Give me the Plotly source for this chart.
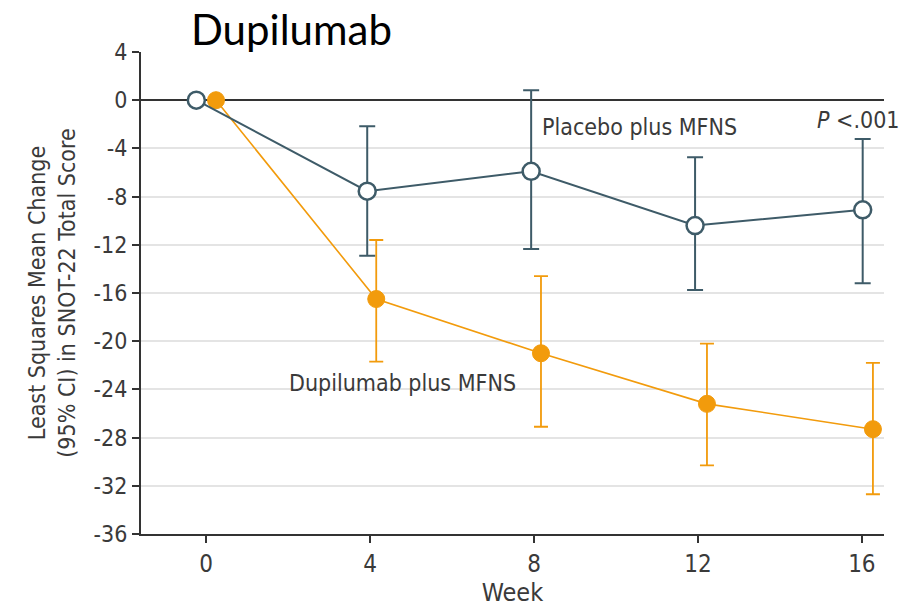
import plotly.graph_objects as go

weeks = [0, 4, 8, 12, 16]
placebo_mean = [0, -7.55, -5.9, -10.4, -9.1]
placebo_upper = [0, -2.16, 0.83, -4.73, -3.23]
placebo_lower = [0, -12.9, -12.35, -15.75, -15.2]
dupi_mean = [0, -16.5, -21.0, -25.2, -27.3]
dupi_upper = [0, -11.6, -14.6, -20.2, -21.8]
dupi_lower = [0, -21.7, -27.1, -30.3, -32.7]
y_ticks = list(range(-36, 5, 4))
y_ticklabels = [str(v) for v in y_ticks]

# horizontal dodge so the two groups don't overlap
placebo_dodge = [-0.24, -0.07, -0.07, -0.07, 0.02]
dupi_dodge = [0.24, 0.15, 0.17, 0.22, 0.27]

PLAC = "#3e5b68"
DUPI = "#f29b0c"
FONT = "DejaVu Sans Condensed, Liberation Sans Narrow, sans-serif"

def xs(d):
    return [w + o for w, o in zip(weeks, d)]

def err(mean, up, lo):
    plus = [u - m for u, m in zip(up, mean)]
    minus = [m - l for m, l in zip(mean, lo)]
    return plus, minus

fig = go.Figure()
pp, pm = err(placebo_mean, placebo_upper, placebo_lower)
dp, dm = err(dupi_mean, dupi_upper, dupi_lower)

fig.add_trace(go.Scatter(
    x=xs(dupi_dodge), y=dupi_mean, mode="lines+markers",
    line=dict(color=DUPI, width=1.6),
    marker=dict(size=17, color=DUPI, line=dict(color=DUPI, width=1)),
    error_y=dict(type="data", symmetric=False, array=dp, arrayminus=dm,
                 color=DUPI, thickness=1.8, width=7),
    showlegend=False))
fig.add_trace(go.Scatter(
    x=xs(placebo_dodge), y=placebo_mean, mode="lines+markers",
    line=dict(color=PLAC, width=2),
    marker=dict(size=17, color="white", line=dict(color=PLAC, width=2.5)),
    error_y=dict(type="data", symmetric=False, array=pp, arrayminus=pm,
                 color=PLAC, thickness=2, width=8),
    showlegend=False))

PW = 904 - 141 - 20
PH = 610 - 52 - 76

fig.update_layout(
    width=904, height=610,
    margin=dict(l=141, r=20, t=52, b=76, autoexpand=False),
    paper_bgcolor="white", plot_bgcolor="white",
    font=dict(family=FONT, color="#3a3a3a", size=23),
    xaxis=dict(range=[-1.59, 16.54], tickvals=weeks, ticks="outside",
               ticklen=7, tickwidth=2, tickcolor="#333333",
               showline=True, linecolor="#333333", linewidth=2,
               showgrid=False, zeroline=False,
               title=dict(text="Week", standoff=6, font=dict(size=25)),
               tickfont=dict(size=24)),
    yaxis=dict(range=[-36, 4], tickvals=y_ticks, ticktext=y_ticklabels, ticks="outside",
               ticklen=7, tickwidth=2, tickcolor="#333333",
               showline=True, linecolor="#333333", linewidth=2,
               showgrid=True, gridcolor="#e4e4e4", gridwidth=1.5,
               zeroline=True, zerolinecolor="#333333", zerolinewidth=2,
               tickfont=dict(size=23),
               title=dict(text="Least Squares Mean Change<br>(95% CI) in SNOT-22 Total Score",
                          standoff=12, font=dict(size=23))),
    annotations=[
        dict(text="Dupilumab", x=(189 - 141) / PW, y=1 + (52 - 29) / PH,
             xref="paper", yref="paper", showarrow=False,
             font=dict(family="Lato, sans-serif", size=42, color="black"),
             xanchor="left", yanchor="middle"),
        dict(text="Placebo plus MFNS", x=8.15, y=-2.2, xref="x", yref="y", showarrow=False,
             xanchor="left", yanchor="middle", font=dict(size=23)),
        dict(text="<i>P</i> <.001", x=(901 - 141) / PW, y=1 - (120 - 52) / PH,
             xref="paper", yref="paper", showarrow=False,
             xanchor="right", yanchor="middle", font=dict(size=23)),
        dict(text="Dupilumab plus MFNS", x=1.98, y=-23.5, xref="x", yref="y", showarrow=False,
             xanchor="left", yanchor="middle", font=dict(size=23)),
    ],
)
fig.write_html("out.html", config={"displayModeBar": False},
               post_script="document.body.style.margin='0';")
